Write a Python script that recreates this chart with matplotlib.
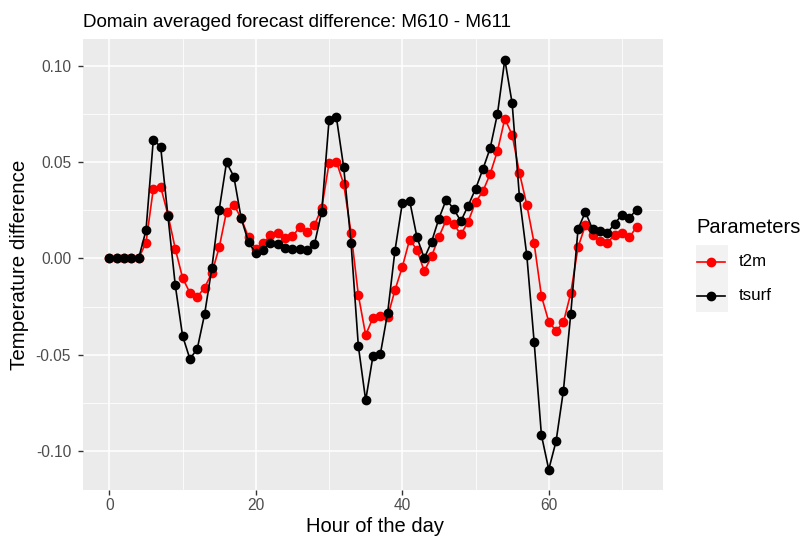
import numpy as np
import matplotlib.pyplot as plt
from matplotlib.patches import Rectangle
from matplotlib.lines import Line2D

plt.rcParams['font.family'] = ['Liberation Sans', 'DejaVu Sans']

hours = list(range(73))

t2m = [0, 0, 0, 0, 0, 0.0081, 0.036, 0.0372, 0.0226, 0.005,
       -0.0102, -0.0179, -0.020, -0.0152, -0.0076, 0.0057, 0.0243, 0.0279, 0.0207, 0.011,
       0.005, 0.0078, 0.012, 0.0131, 0.0105, 0.0114, 0.0162, 0.0136, 0.0171, 0.0262,
       0.0493, 0.0501, 0.0386, 0.0133, -0.0191, -0.0398, -0.0308, -0.030, -0.0303, -0.0165,
       -0.0045, 0.0097, 0.0045, -0.0067, 0.0011, 0.0112, 0.0199, 0.0179, 0.0124, 0.0191,
       0.0291, 0.0348, 0.0438, 0.0558, 0.0725, 0.0641, 0.0443, 0.0278, 0.0079, -0.0196,
       -0.0329, -0.0376, -0.0332, -0.0182, 0.0058, 0.0171, 0.0119, 0.0088, 0.0081, 0.0122,
       0.0131, 0.011, 0.0162]

tsurf = [0, 0, 0, 0, 0, 0.0145, 0.0615, 0.058, 0.0219, -0.014,
         -0.0403, -0.0522, -0.047, -0.0291, -0.0049, 0.0253, 0.0498, 0.0424, 0.0208, 0.0084,
         0.0026, 0.0045, 0.0078, 0.0074, 0.0055, 0.0047, 0.0047, 0.0041, 0.0072, 0.0243,
         0.0718, 0.0732, 0.0472, 0.0081, -0.0455, -0.0737, -0.0506, -0.0498, -0.0283, 0.004,
         0.0286, 0.030, 0.011, 0.0, 0.0086, 0.0206, 0.0305, 0.0257, 0.0193, 0.0274,
         0.036, 0.0462, 0.0572, 0.0751, 0.1032, 0.0805, 0.0317, 0.0016, -0.0432, -0.0918,
         -0.1096, -0.0949, -0.0687, -0.0289, 0.0153, 0.024, 0.015, 0.014, 0.0133, 0.0179,
         0.0227, 0.021, 0.0253]

series_names = ['t2m', 'tsurf']
series_colors = ['#FF0000', '#000000']

fig = plt.figure(figsize=(8.04, 5.37), dpi=100)
ax = fig.add_axes([83/804, 1-490/537, (663-83)/804, (490-39)/537])
ax.set_facecolor('#EBEBEB')
for s in ax.spines.values():
    s.set_visible(False)

for name, vals, col in zip(series_names, [t2m, tsurf], series_colors):
    ax.plot(hours, vals, color=col, lw=1.2, marker='o', ms=6, label=name)

ymin, ymax = min(min(t2m), min(tsurf)), max(max(t2m), max(tsurf))
pad = (ymax - ymin) * 0.05
ax.set_ylim(ymin - pad, ymax + pad)
ax.set_xlim(-3.6, 75.6)
ax.set_xticks([0, 20, 40, 60])
ax.set_xticks([10, 30, 50, 70], minor=True)
ax.set_yticks([-0.10, -0.05, 0.0, 0.05, 0.10])
ax.set_yticklabels(['-0.10', '-0.05', '0.00', '0.05', '0.10'])
ax.set_yticks([-0.075, -0.025, 0.025, 0.075], minor=True)
ax.grid(which='major', color='white', lw=1.1)
ax.grid(which='minor', color='white', lw=0.55)
ax.set_axisbelow(True)
ax.tick_params(which='major', length=3.6, width=1.0, color='#333333',
               labelcolor='#4D4D4D', labelsize=11.2, pad=5)
ax.tick_params(axis='x', which='major', pad=2.5)
ax.tick_params(which='minor', length=0)

fig.text(83/804, 1-27/537, 'Domain averaged forecast difference: M610 - M611',
         fontsize=13.6, color='black', ha='left', va='baseline')
fig.text(20/804, 1-265/537, 'Temperature difference', rotation=90,
         fontsize=14.8, ha='center', va='center')
fig.text(375/804, 1-532/537, 'Hour of the day', fontsize=14.5,
         ha='center', va='baseline')

# legend
fig.text(696/804, 1-233/537, 'Parameters', fontsize=14.5, ha='left', va='baseline')
fig.patches.append(Rectangle((696/804, 1-312/537), 32/804, 67/537,
                             transform=fig.transFigure, facecolor='#F2F2F2',
                             edgecolor='none'))
for i, (name, col) in enumerate(zip(series_names, series_colors)):
    yk = 1 - (262 + 34*i)/537
    fig.lines.append(Line2D([697/804, 725/804], [yk, yk], transform=fig.transFigure,
                            color=col, lw=1.2))
    fig.lines.append(Line2D([711/804], [yk], transform=fig.transFigure, color=col,
                            marker='o', ms=6))
    fig.text(739/804, yk, name, fontsize=12.2, ha='left', va='center')

fig.savefig('out.png', dpi=100)
